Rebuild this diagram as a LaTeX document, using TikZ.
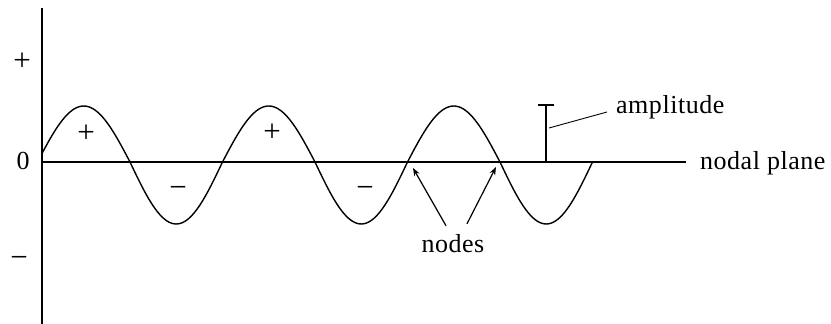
\documentclass[tikz,border=0pt]{standalone}
\usepackage{fontspec}
\setmainfont{Liberation Serif}
\newfontfamily\lblfont[LetterSpace=2]{Liberation Serif}
\usetikzlibrary{arrows.meta}
\tikzset{
  axisline/.style={line width=1.6pt, line cap=butt},
  waveline/.style={line width=1.4pt},
  thinline/.style={line width=1.1pt},
  lbl/.style={inner sep=0pt, font=\lblfont\fontsize{26}{28}\selectfont},
  sgn/.style={inner sep=0pt, font=\fontsize{31}{32}\selectfont},
  zerolbl/.style={inner sep=0pt, font=\fontsize{26}{28}\selectfont}
}
\tikzset{pointer/.style={line width=1.2pt, -{Stealth[length=8pt,width=6pt]}}}
\begin{document}
\begin{tikzpicture}[x=1pt,y=-1pt]
\useasboundingbox (0,0) rectangle (831,324);
% axes
\coordinate (vtop) at (42,8);
\coordinate (vbot) at (42,324);
\coordinate (hleft) at (42,162);
\coordinate (hright) at (686,162);
\draw[axisline] (vtop) -- (vbot);
\draw[axisline] (hleft) -- (hright);
% wave
\draw[waveline] plot[domain=42:592.5, samples=240, smooth]
  (\x, {162 - (sin(1.945946*(\x-37.5)) > 0 ? 56 : 62)*sin(1.945946*(\x-37.5))});
% axis signs
\node[sgn] (pl) at (22,62) {+};
\node[zerolbl] (zr) at (23,161) {0};
\node[sgn] (mi) at (19,262) {−};
% lobe signs
\node[sgn] (p1) at (86,134) {+};
\node[sgn] (m1) at (178,192) {−};
\node[sgn] (p2) at (272,133) {+};
\node[sgn] (m2) at (365,192) {−};
% amplitude marker
\coordinate (abase) at (546,162);
\coordinate (atop) at (546,105);
\coordinate (tl) at (538,105);
\coordinate (tr) at (554,105);
\coordinate (amid) at (549,128);
\draw[thinline] (abase) -- (atop);
\draw[thinline] (tl) -- (tr);
\node[lbl, anchor=base west] (amp) at (616,113) {amplitude};
\draw[line width=0.9pt] (amid) -- ([xshift=-9pt,yshift=1pt]amp.base west);
% nodal plane label
\node[lbl, anchor=base west] (np) at (700,169) {nodal plane};
% nodes
\coordinate (n1) at (413,168);
\coordinate (n2) at (496,167);
\node[lbl, anchor=base] (nodes) at (453,252) {nodes};
\draw[pointer] ([xshift=-7pt,yshift=8pt]nodes.north) -- (n1);
\draw[pointer] ([xshift=14pt,yshift=10pt]nodes.north) -- (n2);
\end{tikzpicture}
\end{document}
